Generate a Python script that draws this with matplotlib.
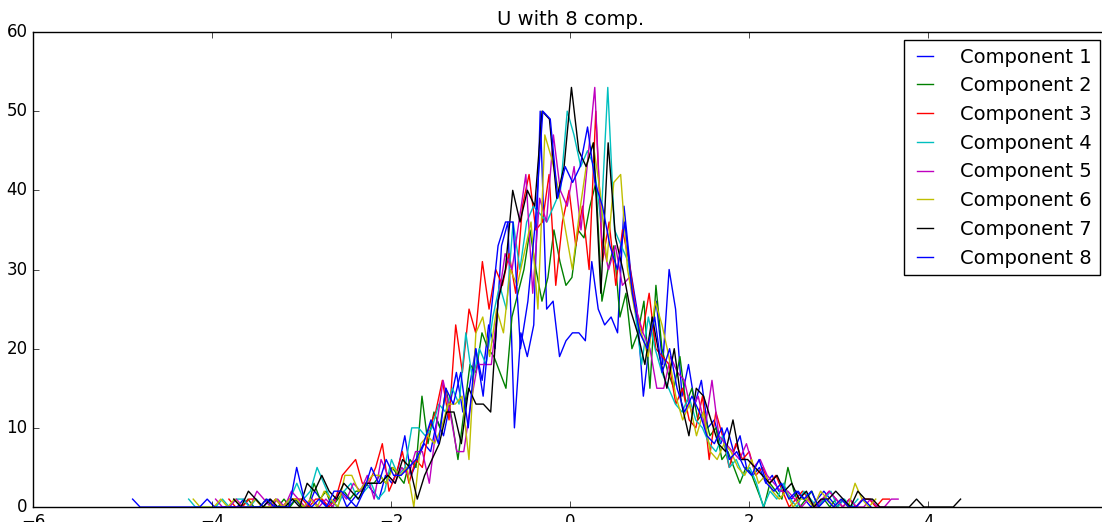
import numpy as np
import matplotlib
matplotlib.use("Agg")
import matplotlib.pyplot as plt

plt.style.use("classic")

labels = ["Component %d" % (k + 1) for k in range(8)]
colors = ["b", "g", "r", "c", "m", "y", "k", "b"]

# histogram range (min, max) of each component, 100 bins each
x_min = [-3.9, -3.7, -3.85, -4.3, -4.0, -4.25, -3.8, -4.93]
x_max = [3.3, 3.0, 3.6, 3.25, 3.7, 3.45, 4.4, 3.4]

comp1 = [0, 0, 0, 1, 0, 0, 0, 1, 0, 0,
         0, 1, 0, 0, 2, 1, 0, 1, 2, 0,
         1, 2, 3, 2, 1, 4, 3, 5, 9, 4,
         6, 8, 7, 11, 9, 13, 17, 12, 15, 20,
         16, 23, 20, 33, 36, 10, 22, 19, 23, 50,
         25, 26, 19, 21, 22, 22, 21, 31, 25, 23,
         24, 22, 38, 30, 25, 14, 21, 26, 18, 30,
         25, 14, 18, 13, 16, 10, 11, 8, 10, 7,
         9, 5, 4, 5, 3, 4, 2, 2, 1, 2,
         1, 0, 1, 2, 1, 0, 1, 0, 0, 1]
comp2 = [0, 1, 0, 0, 1, 0, 0, 1, 0, 1,
         0, 0, 3, 1, 2, 0, 1, 2, 1, 2,
         2, 3, 3, 4, 3, 5, 4, 3, 6, 5,
         14, 8, 12, 10, 15, 11, 6, 12, 18, 17,
         22, 20, 19, 17, 15, 24, 27, 30, 35, 30,
         26, 29, 35, 31, 28, 29, 35, 34, 38, 41,
         26, 30, 33, 24, 27, 20, 22, 26, 15, 28,
         20, 17, 15, 19, 13, 15, 11, 12, 9, 10,
         6, 7, 5, 3, 5, 4, 2, 0, 3, 2,
         1, 5, 2, 0, 1, 2, 0, 1, 0, 1]
comp3 = [1, 0, 0, 1, 1, 0, 0, 1, 0, 1,
         1, 1, 0, 1, 1, 0, 1, 4, 5, 6,
         3, 3, 5, 8, 2, 4, 7, 3, 6, 5,
         10, 12, 16, 11, 23, 17, 25, 22, 31, 25,
         30, 28, 32, 27, 38, 42, 35, 36, 42, 28,
         36, 40, 33, 38, 30, 50, 31, 36, 28, 35,
         31, 25, 22, 27, 20, 19, 18, 13, 15, 11,
         10, 14, 6, 12, 9, 5, 8, 6, 7, 4,
         5, 3, 4, 2, 0, 1, 2, 1, 0, 1,
         2, 1, 0, 1, 0, 1, 1, 0, 1, 1]
comp4 = [1, 0, 0, 0, 0, 1, 0, 1, 1, 0,
         1, 0, 0, 1, 0, 1, 3, 1, 2, 5,
         3, 1, 0, 2, 3, 1, 2, 3, 1, 2,
         6, 4, 5, 10, 10, 9, 10, 13, 12, 15,
         13, 22, 16, 20, 18, 24, 28, 25, 36, 30,
         36, 38, 37, 36, 38, 40, 50, 47, 43, 45,
         43, 36, 53, 35, 33, 31, 25, 18, 24, 20,
         17, 15, 13, 12, 14, 11, 10, 8, 7, 9,
         5, 6, 4, 5, 3, 0, 2, 1, 3, 1,
         0, 2, 1, 0, 1, 2, 0, 1, 0, 1]
comp5 = [1, 0, 0, 1, 0, 0, 2, 1, 0, 1,
         0, 2, 1, 0, 1, 0, 1, 0, 2, 1,
         3, 2, 4, 1, 6, 4, 3, 5, 4, 7,
         7, 3, 10, 16, 12, 7, 7, 13, 18, 18,
         18, 26, 32, 30, 36, 42, 27, 39, 36, 47,
         40, 38, 43, 35, 44, 53, 34, 30, 33, 28,
         29, 25, 22, 20, 15, 15, 19, 17, 16, 12,
         14, 10, 16, 9, 8, 7, 6, 8, 5, 6,
         4, 3, 2, 2, 1, 0, 1, 0, 1, 2,
         1, 0, 1, 0, 0, 1, 0, 0, 1, 1]
comp6 = [1, 0, 0, 0, 1, 0, 1, 0, 0, 1,
         0, 0, 1, 0, 1, 1, 0, 1, 0, 2,
         1, 0, 4, 4, 2, 3, 4, 4, 3, 5,
         4, 5, 0, 8, 9, 8, 10, 13, 13, 14,
         6, 22, 24, 19, 25, 22, 30, 28, 32, 36,
         25, 47, 44, 40, 35, 30, 37, 43, 46, 40,
         31, 41, 42, 30, 25, 22, 19, 26, 23, 19,
         14, 11, 13, 9, 12, 7, 6, 8, 7, 5,
         4, 6, 3, 4, 2, 1, 2, 0, 1, 1,
         0, 2, 1, 0, 1, 0, 3, 1, 0, 1]
comp7 = [1, 0, 2, 1, 0, 1, 0, 0, 1, 0,
         3, 2, 4, 2, 1, 3, 2, 1, 3, 3,
         3, 4, 3, 6, 5, 1, 4, 6, 8, 12,
         12, 8, 15, 13, 13, 12, 26, 30, 40, 36,
         40, 38, 50, 49, 39, 43, 53, 45, 43, 46,
         27, 46, 34, 30, 25, 22, 18, 24, 19, 15,
         20, 13, 9, 15, 14, 11, 8, 7, 11, 6,
         6, 5, 4, 3, 4, 2, 3, 1, 2, 0,
         1, 1, 2, 1, 0, 2, 1, 1, 0, 0,
         0, 0, 0, 1, 0, 0, 0, 0, 0, 1]
comp8 = [1, 0, 0, 0, 0, 0, 0, 0, 0, 0,
         1, 0, 0, 0, 0, 0, 0, 0, 1, 0,
         0, 0, 5, 1, 0, 1, 0, 2, 2, 1,
         0, 2, 5, 3, 6, 4, 4, 5, 6, 8,
         11, 8, 15, 13, 17, 10, 20, 14, 24, 33,
         36, 36, 20, 26, 36, 50, 49, 39, 43, 41,
         43, 48, 41, 38, 33, 30, 36, 27, 22, 20,
         24, 17, 20, 15, 12, 14, 12, 9, 8, 10,
         6, 7, 5, 4, 6, 3, 2, 3, 1, 2,
         1, 2, 0, 1, 0, 1, 0, 0, 1, 0]

counts = [comp1, comp2, comp3, comp4, comp5, comp6, comp7, comp8]

fig = plt.figure(figsize=(11.02, 5.22), dpi=100, facecolor="white")
ax = fig.add_axes([0.030, 0.0287, 0.975, 0.91])

for k in range(8):
    edges = np.linspace(x_min[k], x_max[k], len(counts[k]) + 1)
    centers = (edges[:-1] + edges[1:]) / 2
    ax.plot(centers, counts[k], color=colors[k], lw=1.0, label=labels[k])

ax.set_xlim(-6, 6)
ax.set_ylim(0, 60)
ax.set_title("U with 8 comp.", fontsize=14)
ax.tick_params(labelsize=12)
leg = ax.legend(loc="upper right", fontsize=14, handlelength=1.4, handletextpad=1.1,
                borderaxespad=0.4)
leg.get_frame().set_edgecolor("black")

fig.savefig("out.png", dpi=100, facecolor="white")
